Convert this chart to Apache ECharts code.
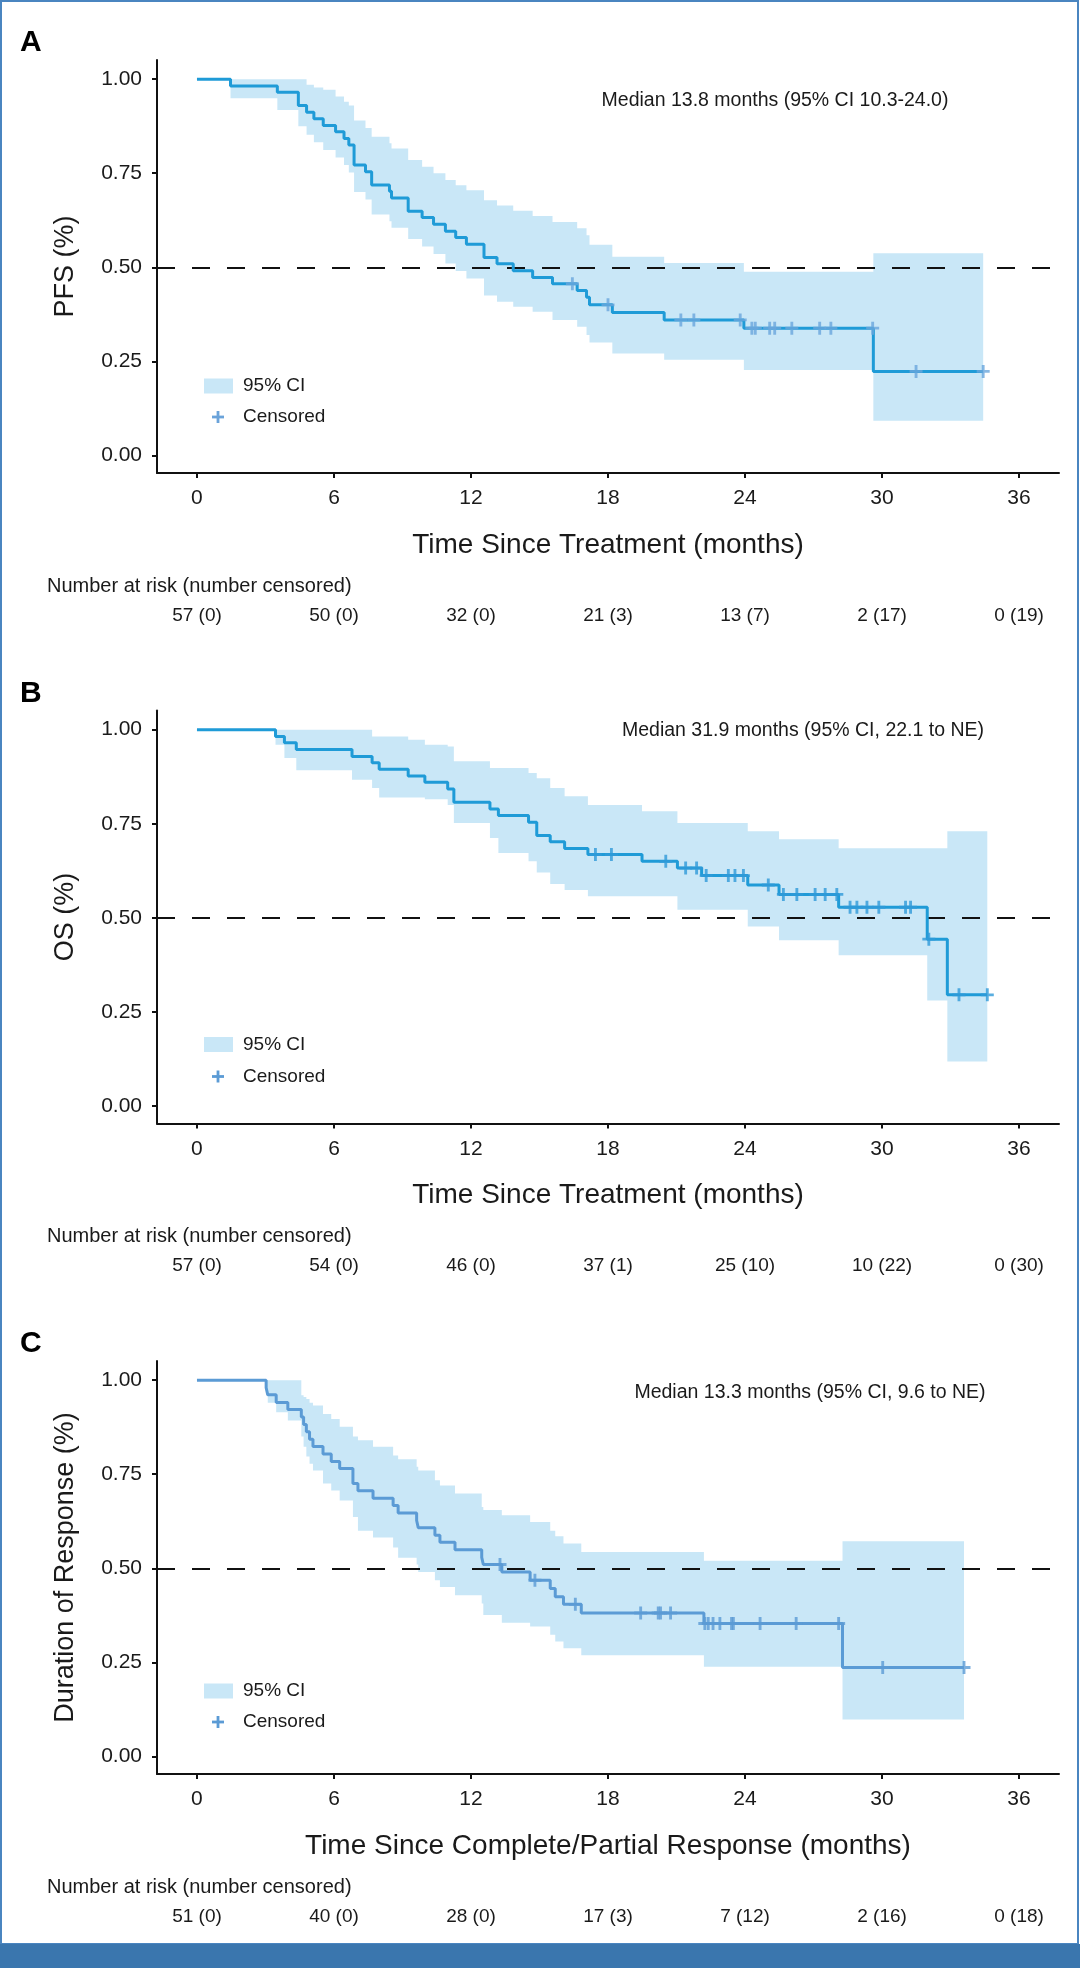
<!DOCTYPE html>
<html>
<head>
<meta charset="utf-8">
<script src="https://cdn.jsdelivr.net/npm/echarts@6/dist/echarts.min.js"></script>
<style>
  html, body { margin: 0; padding: 0; background: #ffffff; }
  #chart { width: 1080px; height: 1968px; }
</style>
</head>
<body>
<div id="chart"></div>
<script>
// ---------------- DATA ----------------
const xTicks = [0, 6, 12, 18, 24, 30, 36];
const yTicks = [0, 0.25, 0.5, 0.75, 1];

// Panel A: PFS
const pfsTime = [0, 1.47, 3.52, 4.44, 4.80, 5.12, 5.53, 6.07, 6.44, 6.65, 6.88, 7.38, 7.65, 8.43, 8.52, 9.25, 9.86, 10.36, 10.88, 11.33, 11.8, 12.57, 13.14, 13.85, 14.7, 15.57, 16.65, 17.06, 17.19, 18.19, 20.46, 23.95, 29.62, 34.43];
const pfsSurv = [1, 0.982, 0.965, 0.930, 0.912, 0.895, 0.877, 0.860, 0.842, 0.825, 0.772, 0.754, 0.719, 0.702, 0.684, 0.649, 0.632, 0.614, 0.596, 0.579, 0.561, 0.526, 0.509, 0.491, 0.473, 0.456, 0.438, 0.420, 0.400, 0.380, 0.360, 0.338, 0.223, 0.223];
const pfsCensorTime = [16.44, 18.0, 21.19, 21.76, 23.79, 24.3, 24.45, 25.08, 25.3, 26.05, 27.27, 27.76, 29.59, 31.49, 34.43];
const pfsCensorSurv = [0.456, 0.400, 0.360, 0.360, 0.360, 0.338, 0.338, 0.338, 0.338, 0.338, 0.338, 0.338, 0.338, 0.223, 0.223];
const pfsBandTime = [1.47, 3.52, 4.44, 4.80, 5.12, 5.53, 6.07, 6.44, 6.65, 6.88, 7.38, 7.65, 8.43, 8.52, 9.25, 9.86, 10.36, 10.88, 11.33, 11.8, 12.57, 13.14, 13.85, 14.7, 15.57, 16.65, 17.06, 17.19, 18.19, 20.46, 23.95, 29.62];
const pfsBandLow = [0.949, 0.918, 0.875, 0.852, 0.832, 0.812, 0.792, 0.772, 0.752, 0.700, 0.680, 0.640, 0.622, 0.605, 0.575, 0.555, 0.535, 0.510, 0.490, 0.470, 0.425, 0.408, 0.395, 0.382, 0.360, 0.342, 0.320, 0.300, 0.271, 0.254, 0.227, 0.092];
const pfsBandHigh = [1.0, 1.0, 1.0, 0.985, 0.978, 0.972, 0.954, 0.940, 0.930, 0.890, 0.870, 0.847, 0.830, 0.816, 0.785, 0.767, 0.750, 0.732, 0.718, 0.705, 0.678, 0.664, 0.650, 0.636, 0.620, 0.604, 0.585, 0.560, 0.528, 0.511, 0.488, 0.537];
const pfsRisk = ['57 (0)', '50 (0)', '32 (0)', '21 (3)', '13 (7)', '2 (17)', '0 (19)'];

// Panel B: OS
const osTime = [0, 3.44, 3.83, 4.35, 6.79, 7.67, 7.98, 9.25, 9.98, 10.98, 11.25, 12.83, 13.2, 14.52, 14.88, 15.47, 16.1, 17.12, 19.49, 21.04, 22.1, 24.12, 25.49, 28.1, 31.98, 32.86, 34.61];
const osSurv = [1, 0.982, 0.965, 0.947, 0.929, 0.912, 0.895, 0.877, 0.860, 0.842, 0.807, 0.789, 0.772, 0.754, 0.719, 0.702, 0.684, 0.668, 0.650, 0.632, 0.612, 0.587, 0.562, 0.528, 0.443, 0.295, 0.295];
const osCensorTime = [17.45, 18.15, 20.53, 21.4, 21.88, 22.3, 23.27, 23.56, 23.93, 25.02, 25.68, 26.27, 27.07, 27.51, 28.02, 28.6, 28.9, 29.34, 29.86, 31.03, 31.25, 32.05, 33.37, 34.61];
const osCensorSurv = [0.668, 0.668, 0.650, 0.632, 0.632, 0.612, 0.612, 0.612, 0.612, 0.587, 0.562, 0.562, 0.562, 0.562, 0.562, 0.528, 0.528, 0.528, 0.528, 0.528, 0.528, 0.443, 0.295, 0.295];
const osBandTime = [3.44, 3.83, 4.35, 6.79, 7.67, 7.98, 9.25, 9.98, 10.98, 11.25, 12.83, 13.2, 14.52, 14.88, 15.47, 16.1, 17.12, 19.49, 21.04, 22.1, 24.12, 25.49, 28.1, 31.98, 32.86];
const osBandLow = [0.960, 0.925, 0.892, 0.867, 0.845, 0.820, 0.820, 0.815, 0.800, 0.752, 0.712, 0.672, 0.650, 0.620, 0.590, 0.574, 0.557, 0.557, 0.521, 0.521, 0.477, 0.440, 0.400, 0.280, 0.118];
const osBandHigh = [1, 1, 1, 1, 0.982, 0.982, 0.973, 0.960, 0.955, 0.916, 0.898, 0.898, 0.885, 0.871, 0.845, 0.823, 0.800, 0.783, 0.752, 0.752, 0.730, 0.709, 0.685, 0.685, 0.730];
const osRisk = ['57 (0)', '54 (0)', '46 (0)', '37 (1)', '25 (10)', '10 (22)', '0 (30)'];

// Panel C: Duration of response
const dorTime = [0, 3.03, 3.1, 3.47, 3.98, 4.57, 4.67, 4.79, 4.93, 5.08, 5.52, 5.88, 6.25, 6.83, 7.05, 7.71, 8.59, 8.81, 9.62, 9.69, 10.42, 10.64, 11.3, 12.47, 12.54, 13.35, 14.59, 15.47, 15.69, 16.05, 16.83, 22.2, 28.27, 33.59];
const dorSurv = [1, 0.980, 0.961, 0.941, 0.922, 0.902, 0.882, 0.863, 0.843, 0.824, 0.804, 0.784, 0.765, 0.725, 0.706, 0.686, 0.667, 0.647, 0.627, 0.608, 0.588, 0.569, 0.549, 0.529, 0.510, 0.490, 0.468, 0.446, 0.424, 0.404, 0.381, 0.353, 0.236, 0.236];
const dorCensorTime = [13.27, 14.8, 16.57, 19.43, 20.2, 20.3, 20.74, 22.24, 22.39, 22.6, 22.9, 23.41, 23.49, 24.66, 26.24, 28.1, 30.03, 33.59];
const dorCensorSurv = [0.510, 0.468, 0.404, 0.381, 0.381, 0.381, 0.381, 0.353, 0.353, 0.353, 0.353, 0.353, 0.353, 0.353, 0.353, 0.353, 0.236, 0.236];
const dorBandTime = [3.03, 3.1, 3.47, 3.98, 4.57, 4.67, 4.79, 4.93, 5.08, 5.52, 5.88, 6.25, 6.83, 7.05, 7.71, 8.59, 8.81, 9.62, 9.69, 10.42, 10.64, 11.3, 12.47, 12.54, 13.35, 14.59, 15.47, 15.69, 16.05, 16.83, 22.2, 28.27];
const dorBandLow = [0.970, 0.940, 0.915, 0.893, 0.850, 0.823, 0.797, 0.778, 0.760, 0.725, 0.707, 0.680, 0.636, 0.600, 0.582, 0.555, 0.528, 0.510, 0.490, 0.468, 0.450, 0.428, 0.406, 0.376, 0.355, 0.345, 0.323, 0.305, 0.287, 0.269, 0.238, 0.098];
const dorBandHigh = [1, 1, 1, 1, 0.960, 0.955, 0.950, 0.940, 0.933, 0.910, 0.897, 0.876, 0.850, 0.840, 0.823, 0.800, 0.790, 0.770, 0.760, 0.734, 0.720, 0.699, 0.663, 0.655, 0.641, 0.623, 0.600, 0.585, 0.566, 0.543, 0.520, 0.572];
const dorRisk = ['51 (0)', '40 (0)', '28 (0)', '17 (3)', '7 (12)', '2 (16)', '0 (18)'];

// ---------------- LAYOUT / STYLE ----------------
const FONT = '"Liberation Sans", Arial, Helvetica, sans-serif';
const TEXT = '#1a1a1a';
const BAND = '#c9e7f7';
const PANEL_DY = 650.5;
const G_LEFT = 157, G_TOP = 60, G_W = 902, G_H = 413;
const X_MIN = -1.75, X_MAX = 37.75, Y_MIN = -0.047, Y_MAX = 1.051;
const PLUS = 'path://M3.9,0 h2.2 v3.9 h3.9 v2.2 h-3.9 v3.9 h-2.2 v-3.9 h-3.9 v-2.2 h3.9 z';

const panels = [
  { letter: 'A', yName: 'PFS (%)', xName: 'Time Since Treatment (months)',
    median: 'Median 13.8 months (95% CI 10.3-24.0)', medX: 775, medY: 101,
    legY1: 386, legY2: 417, line: '#1f9bd7', cens: '#6aa6dc', legPlus: '#6aa3da',
    time: pfsTime, surv: pfsSurv, cT: pfsCensorTime, cS: pfsCensorSurv,
    bT: pfsBandTime, bL: pfsBandLow, bH: pfsBandHigh, risk: pfsRisk },
  { letter: 'B', yName: 'OS (%)', xName: 'Time Since Treatment (months)',
    median: 'Median 31.9 months (95% CI, 22.1 to NE)', medX: 803, medY: 80,
    legY1: 394, legY2: 426, line: '#1f9bd7', cens: '#2f9ad8', legPlus: '#5b9bd5',
    time: osTime, surv: osSurv, cT: osCensorTime, cS: osCensorSurv,
    bT: osBandTime, bL: osBandLow, bH: osBandHigh, risk: osRisk },
  { letter: 'C', yName: 'Duration of Response (%)', xName: 'Time Since Complete/Partial Response (months)',
    median: 'Median 13.3 months (95% CI, 9.6 to NE)', medX: 810, medY: 92,
    legY1: 390, legY2: 421, line: '#5b9bd5', cens: '#5b9bd5', legPlus: '#5b9bd5',
    time: dorTime, surv: dorSurv, cT: dorCensorTime, cS: dorCensorSurv,
    bT: dorBandTime, bL: dorBandLow, bH: dorBandHigh, risk: dorRisk }
];

function bandRenderer(T, LO, HI, tEnd) {
  return function (params, api) {
    const up = [], lo = [];
    for (let k = 0; k < T.length; k++) {
      const t1 = k + 1 < T.length ? T[k + 1] : tEnd;
      up.push(api.coord([T[k], HI[k]]), api.coord([t1, HI[k]]));
      lo.push(api.coord([T[k], LO[k]]), api.coord([t1, LO[k]]));
    }
    return { type: 'polygon', shape: { points: up.concat(lo.reverse()) }, style: { fill: BAND } };
  };
}

const grids = [], xAxes = [], yAxes = [], series = [], graphics = [];
const axisLineStyle = { color: '#111', width: 2 };

panels.forEach((p, i) => {
  const dy = i * PANEL_DY;
  grids.push({ left: G_LEFT, top: G_TOP + dy, width: G_W, height: G_H, outerBoundsMode: 'none', containLabel: false });
  xAxes.push({
    gridIndex: i, type: 'value', min: X_MIN, max: X_MAX,
    axisLine: { show: true, onZero: false, lineStyle: axisLineStyle },
    axisTick: { show: true, customValues: xTicks, length: 5, lineStyle: axisLineStyle },
    axisLabel: { customValues: xTicks, fontSize: 21, color: TEXT, margin: 15, fontFamily: FONT },
    splitLine: { show: false },
    name: p.xName, nameLocation: 'middle', nameGap: 58,
    nameTextStyle: { fontSize: 28, color: TEXT, fontFamily: FONT }
  });
  xAxes.push({
    gridIndex: i, type: 'value', min: X_MIN, max: X_MAX, position: 'bottom', offset: 131,
    axisLine: { show: false }, axisTick: { show: false }, splitLine: { show: false },
    axisLabel: { customValues: xTicks, fontSize: 19, color: TEXT, margin: 2, fontFamily: FONT,
      formatter: (v) => p.risk[xTicks.indexOf(v)] }
  });
  yAxes.push({
    gridIndex: i, type: 'value', min: Y_MIN, max: Y_MAX,
    axisLine: { show: true, onZero: false, lineStyle: axisLineStyle },
    axisTick: { show: true, customValues: yTicks, length: 5, lineStyle: axisLineStyle },
    axisLabel: { customValues: yTicks, fontSize: 21, color: TEXT, margin: 15, fontFamily: FONT,
      formatter: (v) => v.toFixed(2) },
    splitLine: { show: false },
    name: p.yName, nameLocation: 'middle', nameGap: 78,
    nameTextStyle: { fontSize: 27, color: TEXT, fontFamily: FONT }
  });
  const tEnd = p.time[p.time.length - 1];
  series.push({
    type: 'custom', xAxisIndex: 2 * i, yAxisIndex: i, z: 1, silent: true,
    renderItem: bandRenderer(p.bT, p.bL, p.bH, tEnd), data: [[p.bT[0], p.bL[0]]],
    markLine: {
      z: 2, silent: true, symbol: ['none', 'none'], label: { show: false },
      lineStyle: { color: '#111', width: 2, type: [18, 17] },
      emphasis: { disabled: true },
      data: [{ yAxis: 0.5 }]
    }
  });
  series.push({
    type: 'line', xAxisIndex: 2 * i, yAxisIndex: i, z: 3, silent: true, step: 'end',
    showSymbol: false, symbol: 'none',
    lineStyle: { color: p.line, width: 3 },
    data: p.time.map((t, k) => [t, p.surv[k]])
  });
  series.push({
    type: 'scatter', xAxisIndex: 2 * i, yAxisIndex: i, z: 4, silent: true,
    symbol: PLUS, symbolSize: 13, itemStyle: { color: p.cens },
    data: p.cT.map((t, k) => [t, p.cS[k]])
  });

  // panel letter
  graphics.push({ type: 'text', x: 20, y: 43 + dy, style: { text: p.letter, fontSize: 30, fontWeight: 'bold', fontFamily: FONT, fill: '#000', verticalAlign: 'middle' } });
  // median annotation
  graphics.push({ type: 'text', x: p.medX, y: p.medY + dy, style: { text: p.median, fontSize: 19.5, fontFamily: FONT, fill: TEXT, align: 'center', verticalAlign: 'middle' } });
  // legend
  graphics.push({ type: 'rect', shape: { x: 204, y: p.legY1 + dy - 7.5, width: 29, height: 15 }, style: { fill: BAND } });
  graphics.push({ type: 'text', x: 243, y: p.legY1 + dy, style: { text: '95% CI', fontSize: 19, fontFamily: FONT, fill: TEXT, verticalAlign: 'middle' } });
  graphics.push({ type: 'rect', shape: { x: 212, y: p.legY2 + dy - 1.4, width: 12, height: 2.8 }, style: { fill: p.legPlus } });
  graphics.push({ type: 'rect', shape: { x: 216.6, y: p.legY2 + dy - 6, width: 2.8, height: 12 }, style: { fill: p.legPlus } });
  graphics.push({ type: 'text', x: 243, y: p.legY2 + dy, style: { text: 'Censored', fontSize: 19, fontFamily: FONT, fill: TEXT, verticalAlign: 'middle' } });
  // risk table header
  graphics.push({ type: 'text', x: 47, y: 586 + dy, style: { text: 'Number at risk (number censored)', fontSize: 20, fontFamily: FONT, fill: TEXT, verticalAlign: 'middle' } });
});

// frame and bottom bar
graphics.push({ type: 'rect', z: 10, shape: { x: 1, y: 1, width: 1077, height: 1943 }, style: { fill: 'none', stroke: '#4a85c0', lineWidth: 2 } });
graphics.push({ type: 'rect', z: 10, shape: { x: 0, y: 1944, width: 1080, height: 24 }, style: { fill: '#3a76ae' } });

const chart = echarts.init(document.getElementById('chart'), null, { renderer: 'canvas', width: 1080, height: 1968 });
chart.setOption({
  backgroundColor: '#ffffff',
  animation: false,
  textStyle: { fontFamily: FONT },
  grid: grids,
  xAxis: xAxes,
  yAxis: yAxes,
  series: series,
  graphic: { elements: graphics }
});
</script>
</body>
</html>
